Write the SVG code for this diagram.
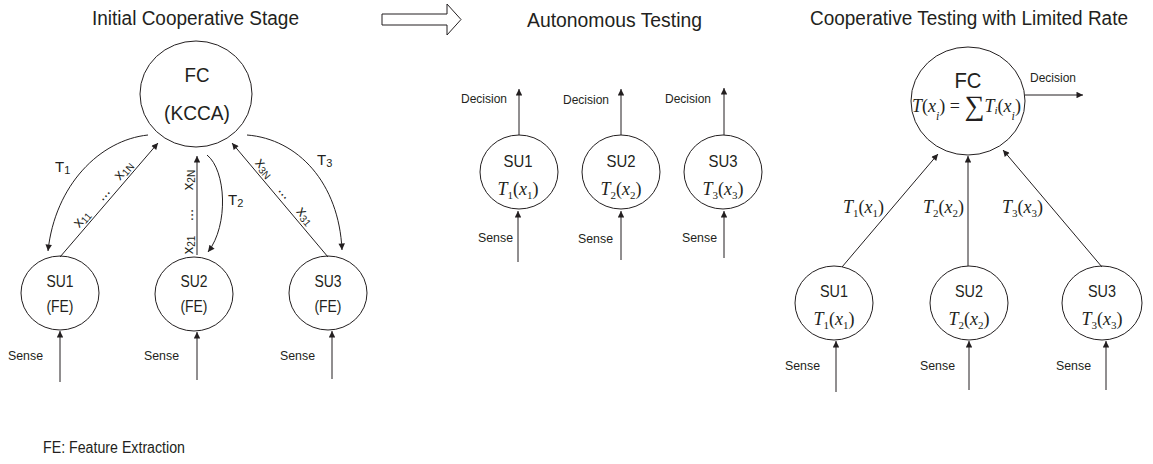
<svg xmlns="http://www.w3.org/2000/svg" width="1153" height="464" viewBox="0 0 1153 464">
  <style>
    text { fill: #231f20; font-family: "Liberation Sans", Arial, sans-serif; }
    .title { font-size: 20px; }
    .fc { font-size: 21px; text-anchor: middle; }
    .su { font-size: 16px; text-anchor: middle; }
    .su2 { font-size: 16.5px; text-anchor: middle; }
    .lbl { font-size: 13.5px; }
    .tl { font-size: 15px; }
    .xl { font-size: 15px; }
    .math { font-family: "Liberation Serif", "Times New Roman", serif; font-size: 18px; }
    .it { font-style: italic; }
    .sub { font-size: 11px; }
    .node { fill: #fff; stroke: #231f20; stroke-width: 1; }
    .edge { fill: none; stroke: #231f20; stroke-width: 1; }
  </style>
  <defs>
    <marker id="ah" viewBox="0 0 10 10" refX="10" refY="5" markerWidth="9" markerHeight="6.5" orient="auto" markerUnits="userSpaceOnUse">
      <path d="M0,0 L10,5 L0,10 z" fill="#231f20"/>
    </marker>
  </defs>

  <rect width="1153" height="464" fill="#fff"/>

  <!-- section titles -->
  <text class="title" x="92" y="25" textLength="207" lengthAdjust="spacingAndGlyphs">Initial Cooperative Stage</text>
  <text class="title" x="527" y="27" textLength="175" lengthAdjust="spacingAndGlyphs">Autonomous Testing</text>
  <text class="title" x="810" y="25" textLength="318" lengthAdjust="spacingAndGlyphs">Cooperative Testing with Limited Rate</text>

  <!-- stage transition arrow -->
  <path d="M382,14 L447,14 L447,4 L461,19.5 L447,35 L447,25 L382,25 Z" fill="#fff" stroke="#231f20" stroke-width="1"/>

  <!-- ===== Initial cooperative stage ===== -->
  <g id="fc-initial">
    <ellipse class="node" cx="196" cy="94" rx="56" ry="53"/>
    <text class="fc" x="197" y="82" textLength="25" lengthAdjust="spacingAndGlyphs">FC</text>
    <text class="fc" x="197" y="120" textLength="66" lengthAdjust="spacingAndGlyphs">(KCCA)</text>
  </g>
  <g id="su1-initial">
    <ellipse class="node" cx="60" cy="293" rx="39" ry="37"/>
    <text class="su" x="60" y="287" textLength="27" lengthAdjust="spacingAndGlyphs">SU1</text>
    <text class="su" x="60" y="312" textLength="27" lengthAdjust="spacingAndGlyphs">(FE)</text>
  </g>
  <g id="su2-initial">
    <ellipse class="node" cx="194" cy="294" rx="39" ry="37"/>
    <text class="su" x="194" y="287" textLength="27" lengthAdjust="spacingAndGlyphs">SU2</text>
    <text class="su" x="194" y="312" textLength="27" lengthAdjust="spacingAndGlyphs">(FE)</text>
  </g>
  <g id="su3-initial">
    <ellipse class="node" cx="328" cy="293" rx="39" ry="37"/>
    <text class="su" x="328" y="287" textLength="27" lengthAdjust="spacingAndGlyphs">SU3</text>
    <text class="su" x="328" y="312" textLength="27" lengthAdjust="spacingAndGlyphs">(FE)</text>
  </g>

  <!-- ===== Autonomous testing ===== -->
  <g id="su1-auto">
    <ellipse class="node" cx="519" cy="172" rx="39" ry="37"/>
    <text class="su2" x="518" y="167" textLength="29" lengthAdjust="spacingAndGlyphs">SU1</text>
    <text class="math" x="518" y="195" text-anchor="middle"><tspan class="it">T</tspan><tspan class="sub" dy="4">1</tspan><tspan dy="-4">(</tspan><tspan class="it">x</tspan><tspan class="sub" dy="4">1</tspan><tspan dy="-4">)</tspan></text>
  </g>
  <g id="su2-auto">
    <ellipse class="node" cx="621" cy="172" rx="39" ry="37"/>
    <text class="su2" x="621" y="167" textLength="29" lengthAdjust="spacingAndGlyphs">SU2</text>
    <text class="math" x="621" y="195" text-anchor="middle"><tspan class="it">T</tspan><tspan class="sub" dy="4">2</tspan><tspan dy="-4">(</tspan><tspan class="it">x</tspan><tspan class="sub" dy="4">2</tspan><tspan dy="-4">)</tspan></text>
  </g>
  <g id="su3-auto">
    <ellipse class="node" cx="723" cy="172" rx="39" ry="37"/>
    <text class="su2" x="723" y="167" textLength="29" lengthAdjust="spacingAndGlyphs">SU3</text>
    <text class="math" x="723" y="195" text-anchor="middle"><tspan class="it">T</tspan><tspan class="sub" dy="4">3</tspan><tspan dy="-4">(</tspan><tspan class="it">x</tspan><tspan class="sub" dy="4">3</tspan><tspan dy="-4">)</tspan></text>
  </g>

  <!-- ===== Cooperative testing with limited rate ===== -->
  <g id="fc-limited">
    <ellipse class="node" cx="968" cy="101" rx="57" ry="54"/>
    <text class="fc" x="968" y="88" style="font-size:22px" textLength="27" lengthAdjust="spacingAndGlyphs">FC</text>
    <text class="math" x="912" y="112" style="font-size:18px"><tspan class="it">T</tspan>(<tspan class="it">x</tspan><tspan class="it" font-size="12" dy="8">i</tspan><tspan dy="-8">) = </tspan><tspan font-size="28" dy="3">∑</tspan><tspan class="it" dy="-3">T</tspan><tspan class="it" font-size="11" dy="2">i</tspan><tspan dy="-2">(</tspan><tspan class="it">x</tspan><tspan class="it" font-size="12" dy="8">i</tspan><tspan dy="-8">)</tspan></text>
  </g>
  <g id="su1-limited">
    <ellipse class="node" cx="834" cy="303" rx="39" ry="37"/>
    <text class="su2" x="834" y="297" textLength="28" lengthAdjust="spacingAndGlyphs">SU1</text>
    <text class="math" x="834" y="325" text-anchor="middle"><tspan class="it">T</tspan><tspan class="sub" dy="4">1</tspan><tspan dy="-4">(</tspan><tspan class="it">x</tspan><tspan class="sub" dy="4">1</tspan><tspan dy="-4">)</tspan></text>
  </g>
  <g id="su2-limited">
    <ellipse class="node" cx="969" cy="303" rx="39" ry="37"/>
    <text class="su2" x="969" y="297" textLength="28" lengthAdjust="spacingAndGlyphs">SU2</text>
    <text class="math" x="969" y="325" text-anchor="middle"><tspan class="it">T</tspan><tspan class="sub" dy="4">2</tspan><tspan dy="-4">(</tspan><tspan class="it">x</tspan><tspan class="sub" dy="4">2</tspan><tspan dy="-4">)</tspan></text>
  </g>
  <g id="su3-limited">
    <ellipse class="node" cx="1102" cy="303" rx="40" ry="37"/>
    <text class="su2" x="1102" y="297" textLength="28" lengthAdjust="spacingAndGlyphs">SU3</text>
    <text class="math" x="1102" y="325" text-anchor="middle"><tspan class="it">T</tspan><tspan class="sub" dy="4">3</tspan><tspan dy="-4">(</tspan><tspan class="it">x</tspan><tspan class="sub" dy="4">3</tspan><tspan dy="-4">)</tspan></text>
  </g>

  <!-- ===== connectors ===== -->
  <g id="connectors">
    <!-- initial stage: statistics to FC, test functions back to SUs -->
    <path class="edge" d="M148,135 C100,140 55,185 48,251" marker-end="url(#ah)"/>
    <path class="edge" d="M60,257 L158,143" marker-end="url(#ah)"/>
    <path class="edge" d="M197,255 L197,156" marker-end="url(#ah)"/>
    <path class="edge" d="M207,155 C226,170 229,225 208,252" marker-end="url(#ah)"/>
    <path class="edge" d="M328,257 L232,143" marker-end="url(#ah)"/>
    <path class="edge" d="M247,135 C298,139 339,183 342,250" marker-end="url(#ah)"/>

    <!-- initial stage: sensing inputs -->
    <path class="edge" d="M60,382 L60,331" marker-end="url(#ah)"/>
    <path class="edge" d="M197,380 L197,332" marker-end="url(#ah)"/>
    <path class="edge" d="M332,379 L332,331" marker-end="url(#ah)"/>

    <!-- autonomous testing: decisions and sensing -->
    <path class="edge" d="M519,135 L519,89" marker-end="url(#ah)"/>
    <path class="edge" d="M621,135 L621,89" marker-end="url(#ah)"/>
    <path class="edge" d="M724,135 L724,88" marker-end="url(#ah)"/>
    <path class="edge" d="M518,262 L518,211" marker-end="url(#ah)"/>
    <path class="edge" d="M621,260 L621,211" marker-end="url(#ah)"/>
    <path class="edge" d="M724,258 L724,211" marker-end="url(#ah)"/>

    <!-- limited rate: test values to FC, FC decision -->
    <path class="edge" d="M842,267 L938,154" marker-end="url(#ah)"/>
    <path class="edge" d="M968,266 L968,156" marker-end="url(#ah)"/>
    <path class="edge" d="M1102,267 L1003,150" marker-end="url(#ah)"/>
    <path class="edge" d="M1025,95 L1083,95" marker-end="url(#ah)"/>

    <!-- limited rate: sensing inputs -->
    <path class="edge" d="M836,392 L836,341" marker-end="url(#ah)"/>
    <path class="edge" d="M969,390 L969,341" marker-end="url(#ah)"/>
    <path class="edge" d="M1106,390 L1106,341" marker-end="url(#ah)"/>
  </g>

  <!-- connector labels -->
  <g id="edge-labels">
    <text class="tl" x="55" y="172">T<tspan font-size="11" dy="2">1</tspan></text>
    <text class="tl" x="228" y="205">T<tspan font-size="11" dy="2">2</tspan></text>
    <text class="tl" x="317" y="165">T<tspan font-size="11" dy="2">3</tspan></text>

    <g transform="translate(60,257) rotate(-49.3)">
      <text class="xl" x="43" y="-4" text-anchor="middle">x<tspan font-size="10" dy="2">11</tspan></text>
      <text class="xl" x="76" y="-4" text-anchor="middle">...</text>
      <text class="xl" x="107" y="-4" text-anchor="middle">x<tspan font-size="10" dy="2">1N</tspan></text>
    </g>
    <g transform="translate(197,254) rotate(-90)">
      <text class="xl" x="9" y="-4" text-anchor="middle">x<tspan font-size="10" dy="2">21</tspan></text>
      <text class="xl" x="39" y="-4" text-anchor="middle">...</text>
      <text class="xl" x="74" y="-4" text-anchor="middle">x<tspan font-size="10" dy="2">2N</tspan></text>
    </g>
    <g transform="translate(232,143) rotate(49.6)">
      <text class="xl" x="40" y="-4" text-anchor="middle">x<tspan font-size="10" dy="2">3N</tspan></text>
      <text class="xl" x="72" y="-4" text-anchor="middle">...</text>
      <text class="xl" x="103" y="-4" text-anchor="middle">x<tspan font-size="10" dy="2">31</tspan></text>
    </g>

    <text class="lbl" x="8" y="360" textLength="35" lengthAdjust="spacingAndGlyphs">Sense</text>
    <text class="lbl" x="144" y="360" textLength="35" lengthAdjust="spacingAndGlyphs">Sense</text>
    <text class="lbl" x="280" y="360" textLength="35" lengthAdjust="spacingAndGlyphs">Sense</text>

    <text class="lbl" x="461" y="103" textLength="46" lengthAdjust="spacingAndGlyphs">Decision</text>
    <text class="lbl" x="563" y="104" textLength="46" lengthAdjust="spacingAndGlyphs">Decision</text>
    <text class="lbl" x="665" y="103" textLength="46" lengthAdjust="spacingAndGlyphs">Decision</text>
    <text class="lbl" x="478" y="242" textLength="35" lengthAdjust="spacingAndGlyphs">Sense</text>
    <text class="lbl" x="578" y="243" textLength="35" lengthAdjust="spacingAndGlyphs">Sense</text>
    <text class="lbl" x="682" y="242" textLength="35" lengthAdjust="spacingAndGlyphs">Sense</text>

    <text class="math" x="843" y="213"><tspan class="it">T</tspan><tspan class="sub" dy="4">1</tspan><tspan dy="-4">(</tspan><tspan class="it">x</tspan><tspan class="sub" dy="4">1</tspan><tspan dy="-4">)</tspan></text>
    <text class="math" x="923" y="213"><tspan class="it">T</tspan><tspan class="sub" dy="4">2</tspan><tspan dy="-4">(</tspan><tspan class="it">x</tspan><tspan class="sub" dy="4">2</tspan><tspan dy="-4">)</tspan></text>
    <text class="math" x="1002" y="213"><tspan class="it">T</tspan><tspan class="sub" dy="4">3</tspan><tspan dy="-4">(</tspan><tspan class="it">x</tspan><tspan class="sub" dy="4">3</tspan><tspan dy="-4">)</tspan></text>
    <text class="lbl" x="1030" y="82" textLength="46" lengthAdjust="spacingAndGlyphs">Decision</text>
    <text class="lbl" x="785" y="370" textLength="35" lengthAdjust="spacingAndGlyphs">Sense</text>
    <text class="lbl" x="920" y="370" textLength="35" lengthAdjust="spacingAndGlyphs">Sense</text>
    <text class="lbl" x="1056" y="370" textLength="35" lengthAdjust="spacingAndGlyphs">Sense</text>
  </g>

  <text x="43" y="453" style="font-size:16px" textLength="142" lengthAdjust="spacingAndGlyphs">FE: Feature Extraction</text>
</svg>
